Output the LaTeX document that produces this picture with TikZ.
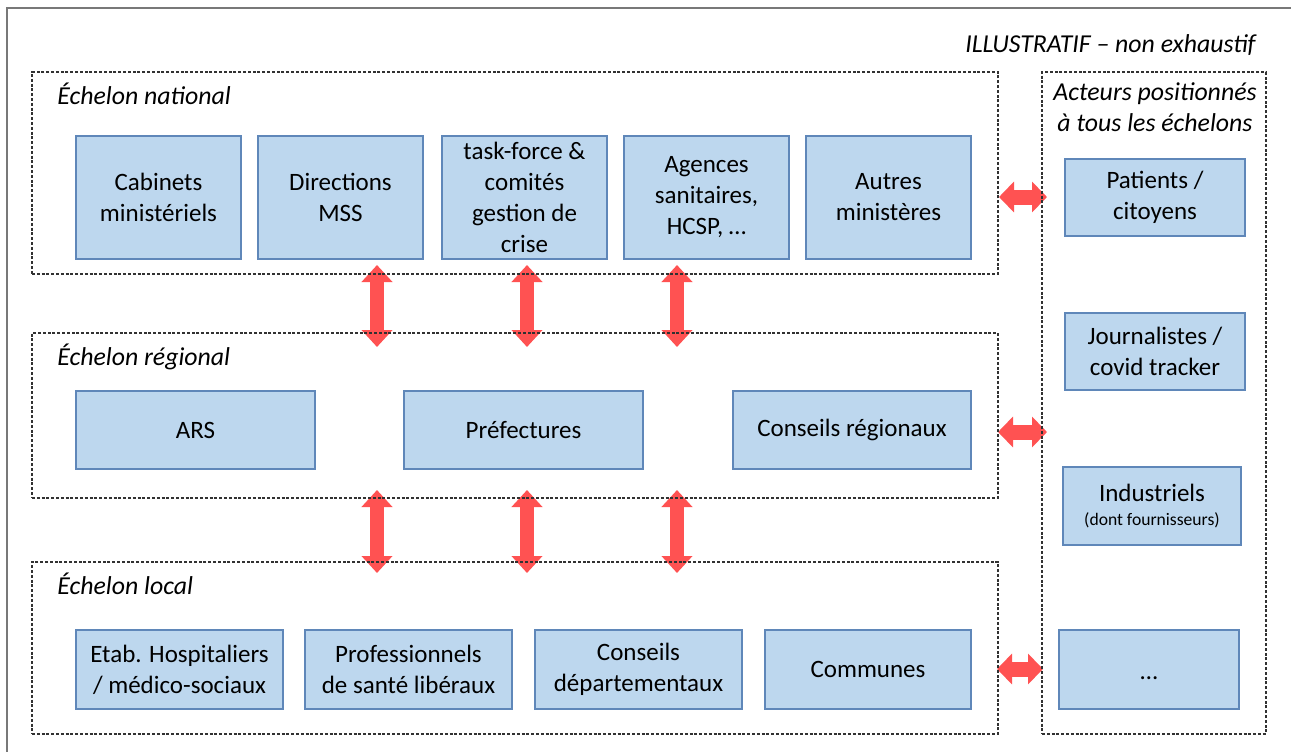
\documentclass[tikz,border=0pt]{standalone}
\usepackage{fontspec}
\setmainfont{Carlito}
\usetikzlibrary{arrows.meta,fit}
\definecolor{boxfill}{RGB}{189,215,238}
\definecolor{boxline}{RGB}{95,135,185}
\definecolor{arrred}{RGB}{255,82,82}
\definecolor{dashcol}{RGB}{50,50,50}
\definecolor{framecol}{RGB}{120,120,120}
\begin{document}
\begin{tikzpicture}[x=0.5pt,y=-0.5pt,
  box/.style={draw=boxline, fill=boxfill, line width=0.6pt, inner sep=0pt, align=center,
    font=\fontsize{12.5}{15.5}\selectfont},
  sz/.style 2 args={minimum width=#1*0.5pt, minimum height=#2*0.5pt},
  zone/.style={draw=dashcol, line width=0.6pt, dash pattern=on 1.5pt off 0.9pt, inner sep=0pt},
  zlabel/.style={font=\fontsize{12.9}{15.5}\selectfont\itshape, inner sep=0pt},
  varrow/.style={arrred, line width=7pt,
    {Triangle[width=15pt,length=8.5pt]}-{Triangle[width=15pt,length=8.5pt]}},
  harrow/.style={arrred, line width=7.5pt,
    {Triangle[width=15pt,length=7.5pt]}-{Triangle[width=15pt,length=7.5pt]}},
]
\clip (0,0) rectangle (1291,751);
\fill[white] (0,0) rectangle (1291,751);
\draw[framecol, line width=0.7pt] (7,780) -- (7,8) -- (1320,8);

% arrow end points
\coordinate (v1a) at (377,265); \coordinate (v1b) at (377,347);
\coordinate (v2a) at (527,265); \coordinate (v2b) at (527,347);
\coordinate (v3a) at (677,265); \coordinate (v3b) at (677,347);
\coordinate (w1a) at (377,490); \coordinate (w1b) at (377,573);
\coordinate (w2a) at (527,490); \coordinate (w2b) at (527,573);
\coordinate (w3a) at (677,490); \coordinate (w3b) at (677,573);
\coordinate (h1a) at (999,197); \coordinate (h1b) at (1047,197);
\coordinate (h2a) at (998,432); \coordinate (h2b) at (1047,432);
\coordinate (h3a) at (997,669); \coordinate (h3b) at (1043,669);

% arrows (behind the dashed frames)
\draw[varrow] (v1a) -- (v1b);
\draw[varrow] (v2a) -- (v2b);
\draw[varrow] (v3a) -- (v3b);
\draw[varrow] (w1a) -- (w1b);
\draw[varrow] (w2a) -- (w2b);
\draw[varrow] (w3a) -- (w3b);
\draw[harrow] (h1a) -- (h1b);
\draw[harrow] (h2a) -- (h2b);
\draw[harrow] (h3a) -- (h3b);

% zones
\node[zone, fit={(32,72) (998,274)}] (natl) {};
\node[zone, fit={(32,333) (998,498)}] (regl) {};
\node[zone, fit={(32,562) (998,734)}] (locl) {};
\node[zone, fit={(1042,72) (1266,734)}] (tous) {};

% labels
\node[zlabel, anchor=base east] (illus) at (1256,52) {ILLUSTRATIF – non exhaustif};
\node[zlabel, anchor=base west] (lnat) at (57,104) {Échelon national};
\node[zlabel, anchor=base west] (lreg) at (57,365) {Échelon régional};
\node[zlabel, anchor=base west] (lloc) at (57,594) {Échelon local};
\node[zlabel, anchor=base] (act1) at (1155,100) {Acteurs positionnés};
\node[zlabel, anchor=base] (act2) at (1155,131) {à tous les échelons};

% national
\node[box, sz={165}{123}] (cab) at (158.5,197.5) {Cabinets\\ministériels};
\node[box, sz={165}{123}] (dir) at (340.5,197.5) {Directions\\MSS};
\node[box, sz={165}{123}] (task) at (524.5,197.5) {task-force \&\\comités\\gestion de\\crise};
\node[box, sz={165}{123}] (agen) at (706.5,197.5) {Agences\\sanitaires,\\HCSP, …};
\node[box, sz={165}{123}] (autr) at (888.5,197.5) {Autres\\ministères};

% regional
\node[box, sz={239}{78}] (ars) at (195.5,430) {ARS};
\node[box, sz={239}{78}] (pref) at (523.5,430) {Préfectures};
\node[box, sz={238}{78}] (creg) at (852,430) {Conseils régionaux};

% local
\node[box, sz={207}{79}] (etab) at (179.5,669.5) {Etab. Hospitaliers\\/ médico-sociaux};
\node[box, sz={207}{79}] (prof) at (408.5,669.5) {Professionnels\\de santé libéraux};
\node[box, sz={207}{79}] (cdep) at (638.5,669.5) {Conseils\\départementaux};
\node[box, sz={206}{79}] (comm) at (868,669.5) {Communes};

% all levels
\node[box, sz={180}{77}] (pat) at (1155,197.5) {Patients /\\citoyens};
\node[box, sz={180}{77}] (jour) at (1155,351.5) {Journalistes /\\covid tracker};
\node[box, sz={178}{78}] (indu) at (1152,506) {Industriels\\[-3.5pt]{\fontsize{8.8}{11}\selectfont (dont fournisseurs)}};
\node[box, sz={180}{79}, align=none, text height=10pt, text depth=0pt] (etc) at (1149,669.5) {…};
\end{tikzpicture}
\end{document}
